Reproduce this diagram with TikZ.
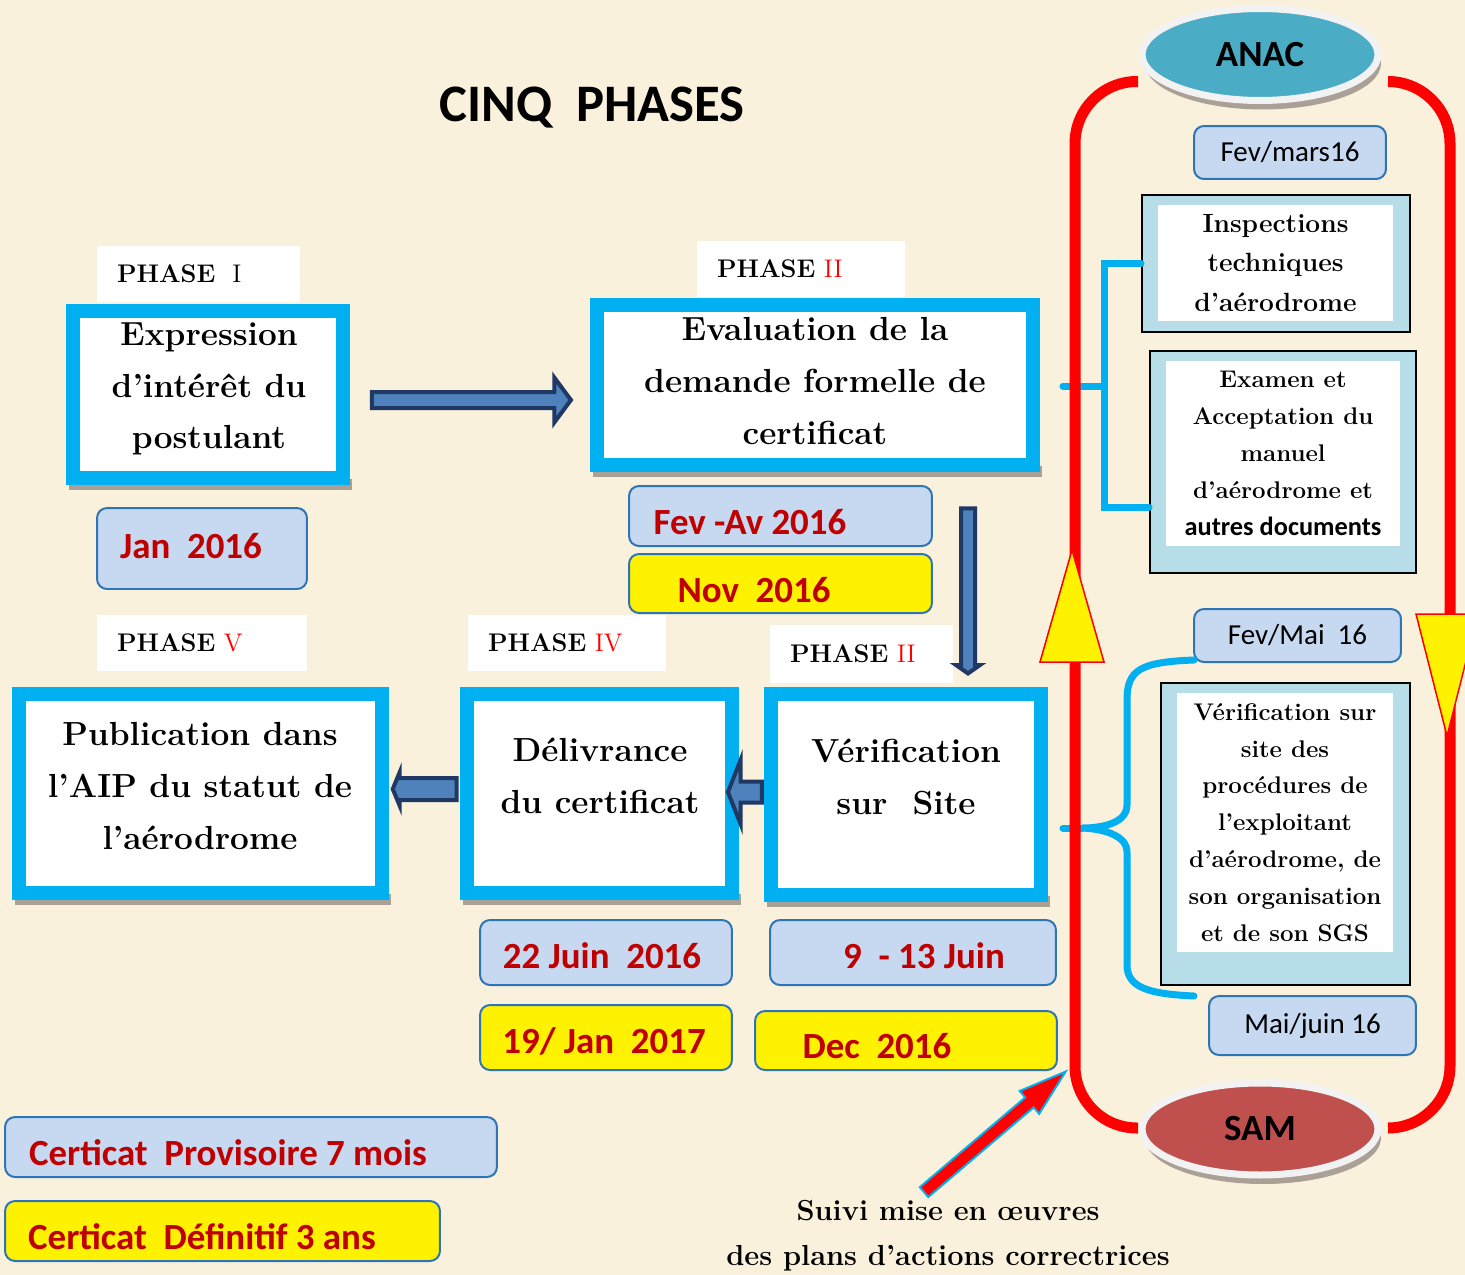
\documentclass[tikz,border=0pt]{standalone}
\usepackage{fontspec}
\newfontfamily\carl{Carlito}
\usetikzlibrary{shapes.geometric,shapes.arrows,shadows}

\definecolor{cream}{RGB}{250,241,221}
\definecolor{cyanb}{RGB}{0,176,240}
\definecolor{navyd}{RGB}{31,56,100}
\definecolor{bluea}{RGB}{79,129,189}
\definecolor{lightb}{RGB}{198,217,241}
\definecolor{blueline}{RGB}{46,117,182}
\definecolor{redd}{RGB}{192,0,0}
\definecolor{redn}{RGB}{255,0,0}
\definecolor{paleb}{RGB}{183,221,232}
\definecolor{anacc}{RGB}{75,172,198}
\definecolor{samc}{RGB}{192,80,77}
\definecolor{ringc}{RGB}{242,242,242}
\definecolor{shadowc}{RGB}{170,160,150}

\newcommand{\phasenum}[1]{{\mdseries\color{redn}#1}}

\tikzset{
  mainbox/.style={draw=cyanb, line width=0.28cm, fill=white},
  maintext/.style={align=center, font=\fontsize{19}{29.5}\selectfont\bfseries},
  phasebox/.style={fill=white, minimum height=1.12cm, inner xsep=0.4cm, align=left,
    font=\fontsize{14.5}{17}\selectfont\bfseries},
  datebox/.style={draw=blueline, line width=0.04cm, rounded corners=0.2cm, fill=lightb},
  datetext/.style={text=redd, font=\carl\fontsize{21}{25}\selectfont\bfseries},
  monthbox/.style={datebox, font=\carl\fontsize{16.5}{20}\selectfont},
  sidebox/.style={draw=black, line width=0.04cm, fill=paleb},
  sidetext/.style={fill=white, align=center, inner sep=0pt},
  blockarrow/.style={single arrow, draw=navyd, fill=bluea, line width=0.08cm,
    inner sep=0pt, single arrow head indent=0pt},
  bracket/.style={draw=cyanb, line width=0.14cm, line cap=round},
  redloop/.style={draw=red, line width=0.22cm, rounded corners=1.24cm},
  organ/.style={ellipse, draw=ringc, line width=0.14cm, minimum width=4.72cm,
    minimum height=1.84cm, font=\carl\fontsize{21}{25}\selectfont\bfseries,
    general shadow={fill=shadowc, shadow xshift=0.06cm, shadow yshift=-0.18cm}},
  warn/.style={fill=yellow, draw=red, line width=0.03cm, line join=miter},
}

\begin{document}
\begin{tikzpicture}[x=0.02cm, y=-0.02cm]
\useasboundingbox (0,0) rectangle (1465,1275);
\fill[cream] (0,0) rectangle (1465,1275);

\node[font=\carl\fontsize{30}{36}\selectfont\bfseries] (titre) at (592,108) {CINQ~~PHASES};

% ombres des cadres
\foreach \xa/\xb/\yb in {69/352/485, 593/1042/472, 15/391/900, 463/741/900, 767/1050/902}
    \fill[shadowc] (\xa,\yb-6) rectangle (\xb,\yb+5);

% les cinq phases
\node[mainbox, minimum width=5.4cm, minimum height=3.34cm] (expr) at (208,394.5) {};
\node[maintext] (exprT) at (209,389) {Expression\\d’intérêt du\\postulant};
\node[mainbox, minimum width=8.72cm, minimum height=3.2cm] (evalu) at (815,385) {};
\node[maintext] (evaluT) at (815,381) {Evaluation de la\\demande formelle de\\certificat};
\node[mainbox, minimum width=7.26cm, minimum height=3.98cm] (publi) at (200.5,793.5) {};
\node[maintext] (publiT) at (200,786) {Publication dans\\l’AIP du statut de\\l’aérodrome};
\node[mainbox, minimum width=5.3cm, minimum height=3.98cm] (deliv) at (599.5,793.5) {};
\node[maintext] (delivT) at (600,776) {Délivrance\\du certificat};
\node[mainbox, minimum width=5.4cm, minimum height=4.02cm] (verif) at (906,794.5) {};
\node[maintext] (verifT) at (906,777) {Vérification\\sur~~Site};

\node[phasebox, text width=3.26cm] (ph1) at (198.5,274) {PHASE~~{\mdseries I}};
\node[phasebox, text width=3.36cm] (ph2a) at (801,268.5) {PHASE \phasenum{II}};
\node[phasebox, text width=3.4cm] (ph5) at (202,642.5) {PHASE \phasenum{V}};
\node[phasebox, text width=3.16cm] (ph4) at (567,642.5) {PHASE \phasenum{IV}};
\node[phasebox, text width=2.86cm, minimum height=1.16cm] (ph2b) at (861.5,654) {PHASE \phasenum{II}};

% dates
\foreach \nm/\cx/\cy/\w/\h/\col/\tx/\ty/\txt in {
    Jan/202/548.5/4.2/1.62/lightb/191/546/{Jan~~2016},
    Fev/780.5/516/6.06/1.2/lightb/750/522/{Fev -Av 2016},
    Nov/780.5/583.5/6.06/1.18/yellow/754/590/{Nov~~2016},
    Juin/606/952.5/5.04/1.3/lightb/602/956/{22 Juin~~2016},
    Site/913/952.5/5.72/1.3/lightb/924/956/{9~~- 13 Juin},
    Deliv/606/1037.5/5.04/1.3/yellow/604/1041/{19/ Jan~~2017},
    Dec/906/1040.5/6.04/1.18/yellow/877/1046/{Dec~~2016},
    Prov/251/1147/9.84/1.2/lightb/228/1153/{Certicat~~Provisoire 7 mois},
    Def/222.5/1231/8.7/1.2/yellow/202/1237/{Certicat~~Définitif 3 ans}} {
    \node[datebox, fill=\col, minimum width=\w cm, minimum height=\h cm] (b\nm) at (\cx,\cy) {};
    \node[datetext] (t\nm) at (\tx,\ty) {\txt};
}

% cote ANAC / SAM
\node[monthbox, minimum width=3.84cm, minimum height=1.06cm] (mars) at (1290,152.5) {Fev/mars16};
\node[monthbox, minimum width=4.14cm, minimum height=1.06cm] (fevmai) at (1297.5,635.5) {Fev/Mai~~16};
\node[monthbox, minimum width=4.14cm, minimum height=1.18cm] (maijuin) at (1312.5,1025.5) {Mai/juin 16};

\node[sidebox, minimum width=5.36cm, minimum height=2.74cm] (insp) at (1276,263.5) {};
\node[sidetext, minimum width=4.7cm, minimum height=2.32cm,
    font=\fontsize{15}{22.7}\selectfont\bfseries] (inspT) at (1275.5,263)
    {Inspections\\techniques\\d’aérodrome};
\node[sidebox, minimum width=5.32cm, minimum height=4.44cm] (exam) at (1283,462) {};
\node[sidetext, minimum width=4.68cm, minimum height=3.7cm,
    font=\fontsize{13.7}{21}\selectfont\bfseries] (examT) at (1283,453.5)
    {Examen et\\Acceptation du\\manuel\\d'aérodrome et\\{\carl\fontsize{15}{21}\selectfont autres documents}};
\node[sidebox, minimum width=4.98cm, minimum height=6.04cm] (sverif) at (1285.5,834) {};
\node[sidetext, minimum width=4.32cm, minimum height=5.18cm,
    font=\fontsize{13.7}{21}\selectfont\bfseries] (sverifT) at (1285,822.5)
    {Vérification sur\\site des\\procédures de\\l'exploitant\\d'aérodrome, de\\son organisation\\et de son SGS};

% accolades
\coordinate (brcA) at (1104,386);
\coordinate (brcB) at (1104,507);
\coordinate (brcC) at (1082,828);
\draw[bracket] (brcA -| evalu.east) ++(23,0) -- (brcA);
\draw[bracket] (insp.west) -- (insp.west -| brcA) -- (brcB) -- (brcB -| exam.west);
\draw[bracket] (brcC -| verif.east) ++(15,0) -- (brcC);
\draw[bracket] (1194,660) .. controls (1140,662) and (1127,670) .. (1127,700) -- (1127,805)
    .. controls (1127,822) and (1105,828) .. (brcC)
    .. controls (1105,829) and (1127,836) .. (1127,852) -- (1127,965)
    .. controls (1127,988) and (1150,994) .. (1194,996);

% boucle rouge
\draw[redloop] (1138,81.5) -- (1075,81.5) -- (1075,1128) -- (1138,1128);
\draw[redloop] (1388,81.5) -- (1450,81.5) -- (1450,1128) -- (1388,1128);
\draw[warn] (1072,550) -- (1104,662) -- (1040,662) -- cycle;
\draw[warn] (1416,614) -- (1478,614) -- (1447,736) -- cycle;

\node[organ, fill=anacc] (anac) at (1260,54.5) {ANAC};
\node[organ, fill=samc] (sam) at (1260,1129) {SAM};

% fleches
\node[blockarrow, inner ysep=0.12cm, single arrow head extend=0.29cm,
    single arrow tip angle=107, minimum height=3.98cm] (arR) at (468.5,400) {};
\node[blockarrow, inner ysep=0.1cm, single arrow head extend=0.1cm,
    single arrow tip angle=110, minimum height=3.3cm, rotate=-90] (arD) at (968,588.5) {};
\node[blockarrow, inner ysep=0.18cm, single arrow head extend=0.11cm,
    single arrow tip angle=135, minimum height=1.28cm, rotate=180] (arL1) at (427,789) {};
\node[blockarrow, inner ysep=0.17cm, single arrow head extend=0.44cm,
    single arrow tip angle=137, minimum height=0.68cm, rotate=180] (arL2) at (747,792) {};

\node[blockarrow, draw=cyanb, fill=red, line width=0.04cm, inner ysep=0.11cm,
    single arrow head extend=0.17cm, single arrow tip angle=35, minimum height=3.72cm,
    rotate=40.4] (arSuivi) at (987,1138.5) {};
\node[font=\fontsize{16.5}{25.5}\selectfont\bfseries, align=center] (suivi) at (948,1236)
    {Suivi mise en œuvres\\des plans d’actions correctrices};
\end{tikzpicture}
\end{document}
